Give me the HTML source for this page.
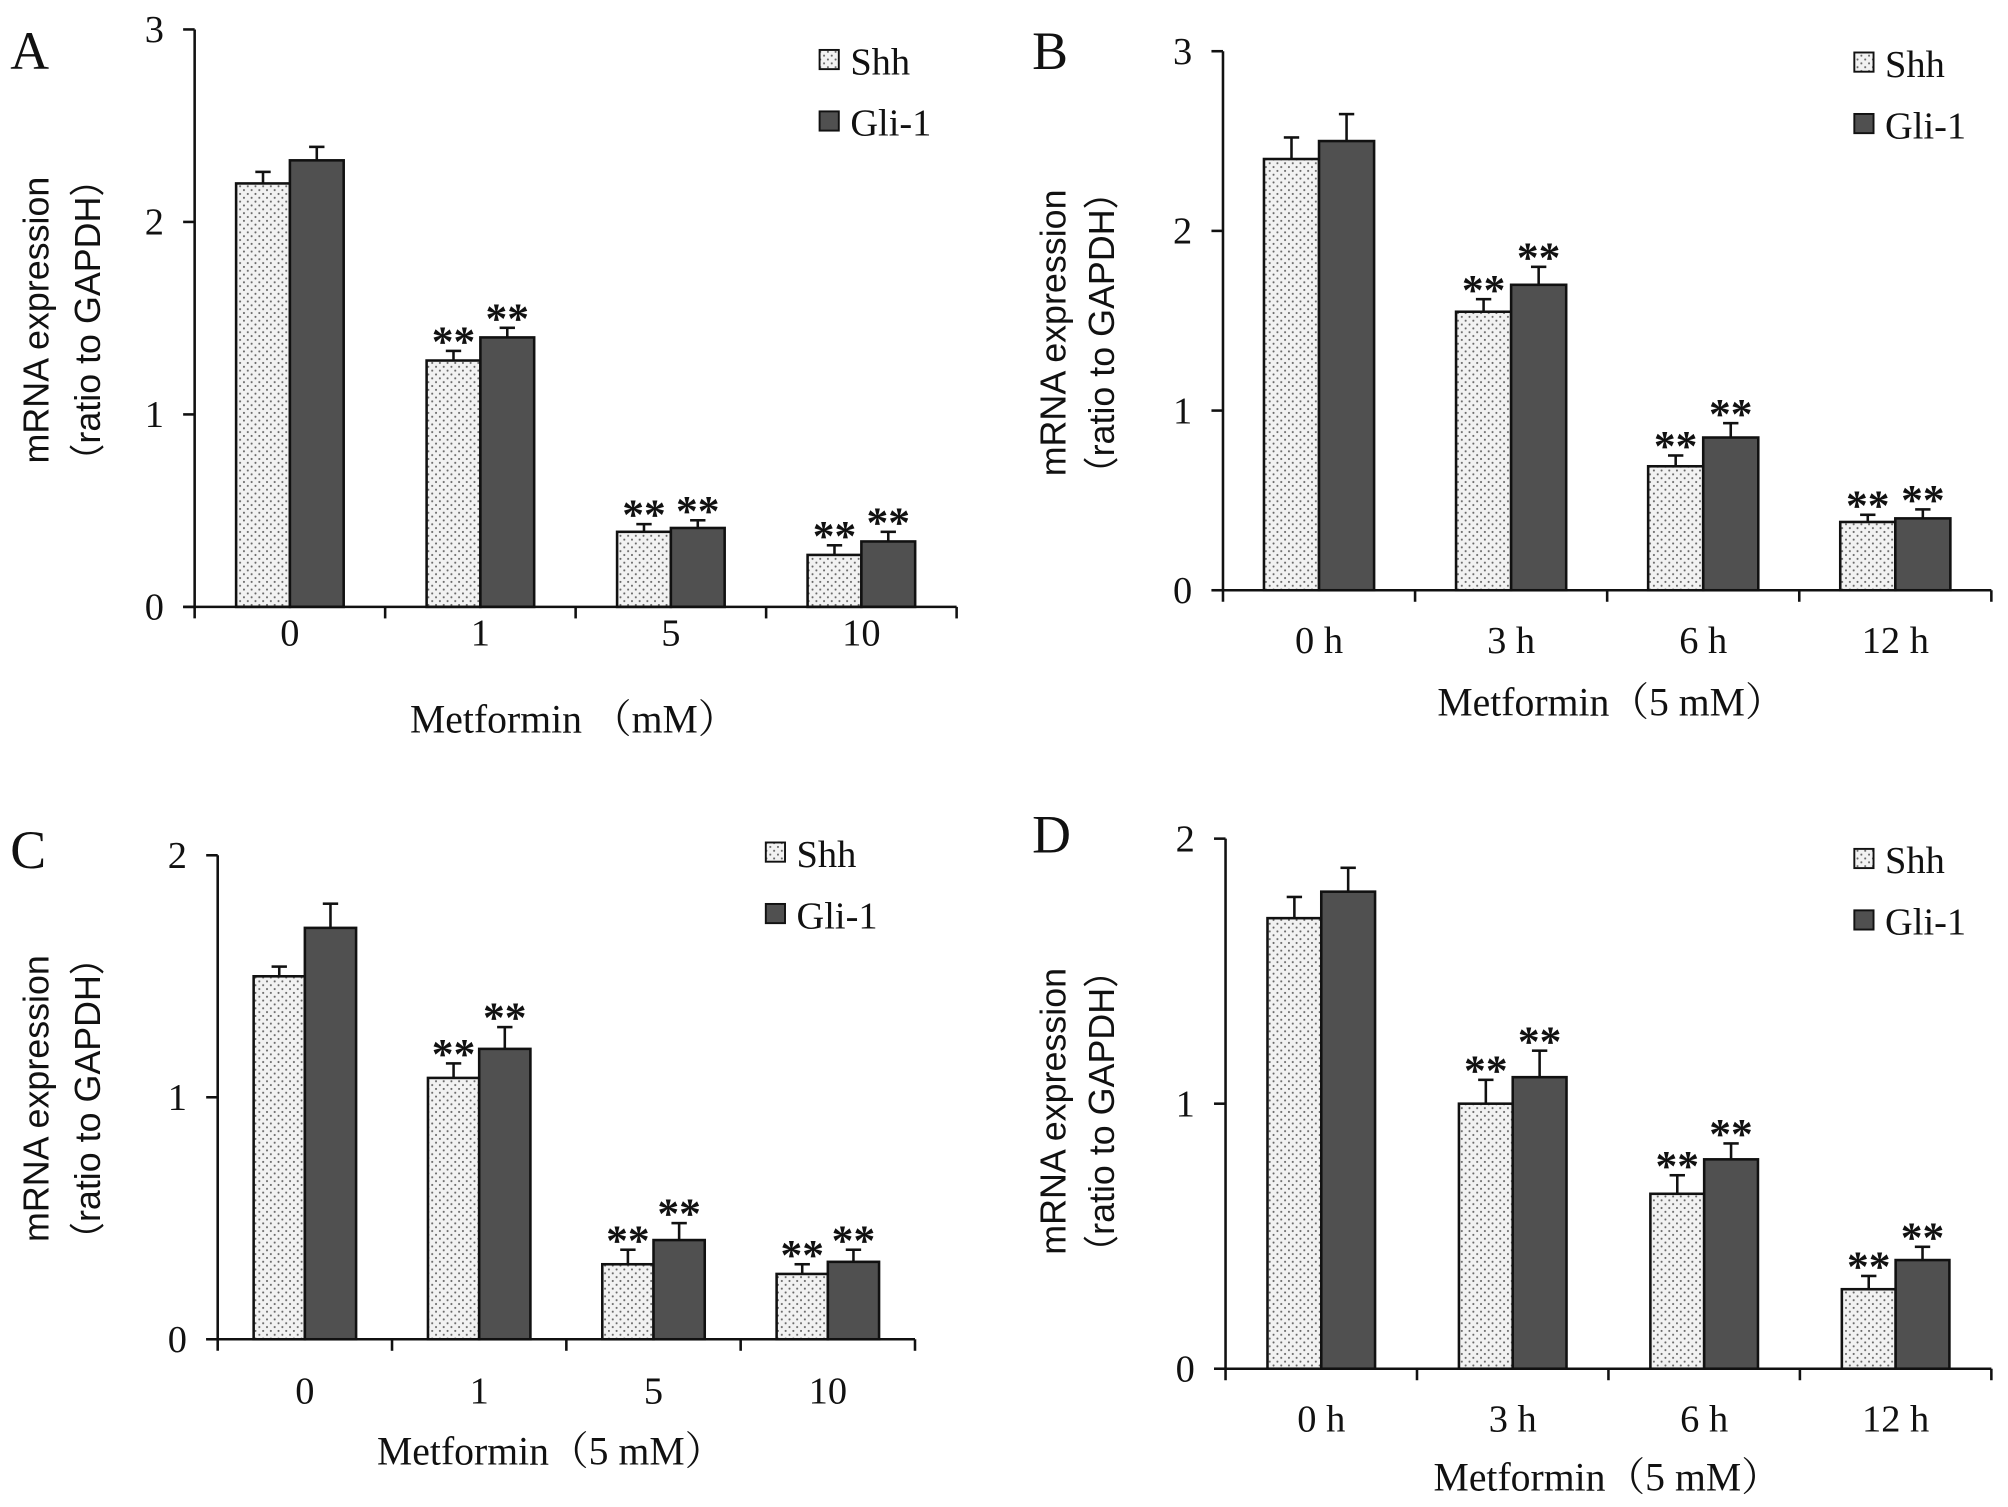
<!DOCTYPE html>
<html><head><meta charset="utf-8"><style>
html,body{margin:0;padding:0;background:#fff}
svg{display:block}
text{font-family:"Liberation Serif","Noto Serif CJK SC",serif;fill:#111}
.ytitle{font-family:"Liberation Sans","Noto Sans CJK SC",sans-serif}
</style></head><body>
<svg id="chart" width="2008" height="1507" viewBox="0 0 1568 1177" preserveAspectRatio="none" xmlns="http://www.w3.org/2000/svg">
<defs>
<pattern id="dots" width="6" height="6" patternUnits="userSpaceOnUse">
<rect width="6" height="6" fill="#f2f2f2"/><circle cx="1.5" cy="1.5" r="0.8" fill="#666"/><circle cx="4.5" cy="4.5" r="0.8" fill="#666"/>
</pattern>
</defs>
</svg>
<script>
// Panel A
const catsA = ["0","1","5","10"];
const shhA = [2.2, 1.28, 0.39, 0.27];
const shhErrA = [0.06, 0.05, 0.04, 0.05];
const gliA = [2.32, 1.40, 0.41, 0.34];
const gliErrA = [0.07, 0.05, 0.04, 0.05];
const ticksA = [0,1,2,3];
// Panel B
const catsB = ["0 h","3 h","6 h","12 h"];
const shhB = [2.4, 1.55, 0.69, 0.38];
const shhErrB = [0.12, 0.07, 0.06, 0.04];
const gliB = [2.5, 1.70, 0.85, 0.40];
const gliErrB = [0.15, 0.10, 0.08, 0.05];
const ticksB = [0,1,2,3];
// Panel C
const catsC = ["0","1","5","10"];
const shhC = [1.5, 1.08, 0.31, 0.27];
const shhErrC = [0.04, 0.06, 0.06, 0.04];
const gliC = [1.7, 1.2, 0.41, 0.32];
const gliErrC = [0.10, 0.09, 0.07, 0.05];
const ticksC = [0,1,2];
// Panel D
const catsD = ["0 h","3 h","6 h","12 h"];
const shhD = [1.7, 1.0, 0.66, 0.30];
const shhErrD = [0.08, 0.09, 0.07, 0.05];
const gliD = [1.8, 1.1, 0.79, 0.41];
const gliErrD = [0.09, 0.10, 0.06, 0.05];
const ticksD = [0,1,2];
const sigA = [false,true,true,true];
const sigB = [false,true,true,true];
const sigC = [false,true,true,true];
const sigD = [false,true,true,true];

const NS="http://www.w3.org/2000/svg";
const svg=document.getElementById('chart');
function mk(tag,attrs,parent,txt){const e=document.createElementNS(NS,tag);for(const k in attrs)e.setAttribute(k,attrs[k]);if(txt!==undefined)e.textContent=txt;(parent||svg).appendChild(e);return e;}

const panels=[
 {id:'a',letter:'A',lx:8,ly:54,x0:152,x1:747,yTop:23,yBot:474,max:3,bw:42,cats:catsA,shh:shhA,se:shhErrA,gli:gliA,ge:gliErrA,ticks:ticksA,sig:sigA,xl:'Metformin （mM）',xlx:448,xly:572,tly:504,yt1:28,yt2:68,ytc:250,legx:640,legy:48},
 {id:'b',letter:'B',lx:806,ly:54,x0:955,x1:1555,yTop:40,yBot:461,max:3,bw:43,cats:catsB,shh:shhB,se:shhErrB,gli:gliB,ge:gliErrB,ticks:ticksB,sig:sigB,xl:'Metformin（5 mM）',xlx:1258,xly:559,tly:510,yt1:822,yt2:860,ytc:260,legx:1448,legy:50},
 {id:'c',letter:'C',lx:8,ly:678,x0:170,x1:714.5,yTop:668,yBot:1046,max:2,bw:40,cats:catsC,shh:shhC,se:shhErrC,gli:gliC,ge:gliErrC,ticks:ticksC,sig:sigC,xl:'Metformin（5 mM）',xlx:430,xly:1144,tly:1096,yt1:28,yt2:68,ytc:858,legx:598,legy:667},
 {id:'d',letter:'D',lx:806,ly:666,x0:957,x1:1555,yTop:655,yBot:1069,max:2,bw:42,cats:catsD,shh:shhD,se:shhErrD,gli:gliD,ge:gliErrD,ticks:ticksD,sig:sigD,xl:'Metformin（5 mM）',xlx:1255,xly:1164,tly:1118,yt1:822,yt2:860,ytc:868,legx:1448,legy:672}
];

panels.forEach(p=>{
 const g=mk('g',{});
 
 
 const y=v=>p.yBot-(v/p.max)*(p.yBot-p.yTop);
 const cw=(p.x1-p.x0)/p.cats.length;
 const cx=i=>p.x0+cw*(i+0.5);
 const L=mk('text',{x:p.lx,y:p.ly,'font-size':42},g,p.letter);
 
 
 p.cats.forEach((c,i)=>{
  const c0=cx(i);
  [[p.shh,p.se,'url(#dots)',-1,'shh'],[p.gli,p.ge,'#505050',0,'gli']].forEach(([vals,errs,fill,off,nm])=>{
   const v=vals[i],e=errs[i];
   const bx=c0+off*p.bw, bt=y(v);
   const eb=mk('line',{x1:bx+p.bw/2,x2:bx+p.bw/2,y1:bt,y2:y(v+e),stroke:'#111','stroke-width':2},g);
   
   
   const cap=mk('line',{x1:bx+p.bw/2-6,x2:bx+p.bw/2+6,y1:y(v+e),y2:y(v+e),stroke:'#111','stroke-width':2},g);
   
   
   const r=mk('rect',{x:bx,y:bt,width:p.bw,height:p.yBot-bt,fill:fill,stroke:'#111','stroke-width':2},g);
   
   
   if(p.sig[i]){
    const s=mk('text',{x:bx+p.bw/2,y:y(v+e)+4,'font-size':34,'font-weight':'bold','text-anchor':'middle','font-family':'Liberation Sans, sans-serif'},g,'**');
    
    
   }
  });
  const t=mk('text',{x:c0,y:p.tly,'font-size':30,'text-anchor':'middle'},g,c);
  
  
 });
 const ya=mk('line',{x1:p.x0,x2:p.x0,y1:p.yTop,y2:p.yBot+9,stroke:'#111','stroke-width':2},g);
 
 
 const xa=mk('line',{x1:p.x0-9,x2:p.x1,y1:p.yBot,y2:p.yBot,stroke:'#111','stroke-width':2},g);
 
 
 for(let i=1;i<=p.cats.length;i++){
  const xt=p.x0+cw*i;
  mk('line',{x1:xt,x2:xt,y1:p.yBot,y2:p.yBot+9,stroke:'#111','stroke-width':2},g);
 }
 p.ticks.forEach(tv=>{
  mk('line',{x1:p.x0-9,x2:p.x0,y1:y(tv),y2:y(tv),stroke:'#111','stroke-width':2},g);
  const tl=mk('text',{x:p.x0-24,y:y(tv)+10,'font-size':30,'text-anchor':'end'},g,String(tv));
  
  
 });
 const xt=mk('text',{x:p.xlx,y:p.xly,'font-size':31,'text-anchor':'middle'},g,p.xl);
 
 
 const y1=mk('text',{x:0,y:0,'font-size':28,'text-anchor':'middle',class:'ytitle',transform:`translate(${p.yt1+10},${p.ytc}) rotate(-90)`},g,'mRNA expression');
 
 
 const y2=mk('text',{x:0,y:0,'font-size':28,'text-anchor':'middle',class:'ytitle',transform:`translate(${p.yt2+10},${p.ytc}) rotate(-90)`},g,'（ratio to GAPDH）');
 
 
 [['Shh','url(#dots)',0],['Gli-1','#505050',48]].forEach(([nm,f,dy])=>{
  const sq=mk('rect',{x:p.legx,y:p.legy+dy-9,width:15,height:15,fill:f,stroke:'#111','stroke-width':1.5},g);
  
  
  const lt=mk('text',{x:p.legx+24,y:p.legy+dy+10,'font-size':30},g,nm);
  
  
 });
});
</script>
</body></html>
